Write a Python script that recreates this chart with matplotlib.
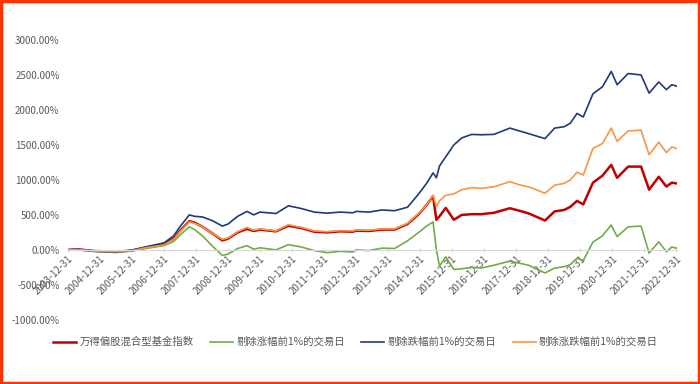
import numpy as np
import pandas as pd
import matplotlib.pyplot as plt
import matplotlib.dates as mdates
from matplotlib.patches import Rectangle
from matplotlib.ticker import FuncFormatter

plt.rcParams['font.family'] = ['Noto Sans CJK SC', 'DejaVu Sans']

# sample dates
dates = pd.to_datetime([
    "2003-12-31", "2004-04-20", "2004-10-20", "2005-06-30", "2005-12-31",
    "2006-07-01", "2006-12-31", "2007-04-20", "2007-07-01", "2007-10-16",
    "2007-12-15", "2008-03-15", "2008-07-01", "2008-10-28", "2008-12-31",
    "2009-04-20", "2009-08-04", "2009-10-20", "2009-12-31", "2010-07-01",
    "2010-11-20", "2011-04-20", "2011-09-10", "2012-02-05", "2012-07-01",
    "2012-11-25", "2012-12-31", "2013-05-25", "2013-10-20", "2014-03-15",
    "2014-08-10", "2014-12-15", "2015-03-15", "2015-05-28", "2015-07-05",
    "2015-08-10", "2015-10-20", "2016-01-20", "2016-04-20", "2016-08-10",
    "2016-11-25", "2017-04-20", "2017-10-20", "2018-02-05", "2018-05-25",
    "2018-11-25", "2019-03-15", "2019-07-01", "2019-09-10", "2019-11-25",
    "2020-02-05", "2020-05-25", "2020-09-10", "2020-12-20", "2021-02-25",
    "2021-07-01", "2021-11-25", "2022-02-25", "2022-06-15", "2022-09-10",
    "2022-11-10", "2023-01-05",
])

wind_index = [
    0, 8, -15, -30, -8, 40, 80, 160, 270, 410,
    390, 330, 240, 135, 160, 250, 300, 270, 290, 265,
    345, 310, 260, 250, 265, 260, 275, 270, 290, 290,
    370, 510, 640, 770, 430, 480, 600, 430, 500, 510,
    510, 530, 595, 560, 520, 420, 550, 570, 615, 700,
    650, 960, 1060, 1215, 1030, 1190, 1190, 860, 1045, 905,
    960, 950,
]
ex_top_up = [
    0, 0, -20, -35, -15, 25, 60, 120, 210, 330,
    290, 200, 60, -80, -60, 20, 60, 10, 30, 0,
    75, 40, -10, -40, -20, -30, 0, -10, 25, 20,
    130, 250, 340, 400, 0, -230, -100, -280, -270, -250,
    -260, -220, -160, -190, -220, -330, -260, -240, -210, -120,
    -150, 110, 200, 355, 190, 330, 340, -45, 115, -25,
    40, 25,
]
ex_top_down = [
    0, 10, -15, -30, -5, 50, 100, 200, 330, 500,
    480, 470, 420, 340, 370, 480, 550, 500, 540, 520,
    630, 590, 540, 525, 540, 530, 550, 540, 570, 560,
    610, 800, 950, 1100, 1030, 1200, 1330, 1500, 1600, 1650,
    1645, 1650, 1740, 1700, 1660, 1590, 1740, 1760, 1810, 1950,
    1900, 2230, 2330, 2550, 2360, 2520, 2500, 2240, 2400, 2290,
    2360, 2340,
]
ex_both = [
    0, 5, -15, -25, -10, 35, 70, 150, 260, 400,
    380, 330, 240, 150, 170, 260, 320, 280, 300, 270,
    360, 320, 270, 260, 275, 270, 285, 280, 300, 300,
    380, 520, 640, 780, 620, 700, 780, 800, 860, 890,
    880, 900, 975, 930, 900, 810, 925, 950, 1000, 1110,
    1070, 1450, 1520, 1740, 1550, 1700, 1710, 1360, 1540, 1390,
    1470, 1450,
]

series_names = ["万得偏股混合型基金指数", "剔除涨幅前1%的交易日",
                "剔除跌幅前1%的交易日", "剔除涨跌幅前1%的交易日"]
series_vals = [wind_index, ex_top_up, ex_top_down, ex_both]
colors = ["#C00000", "#70AD47", "#203A78", "#F79646"]
widths = [1.8, 1.2, 1.2, 1.2]

tick_dates = pd.to_datetime([f"{y}-12-31" for y in range(2003, 2023)])

fig = plt.figure(figsize=(7, 3.84), dpi=100)
ax = fig.add_axes([0.097, 0.167, 0.870, 0.729])

for name, vals, c, lw in zip(series_names, series_vals, colors, widths):
    ax.plot(dates, vals, color=c, lw=lw, label=name)

ax.set_ylim(-1000, 3000)
ax.set_yticks(np.arange(-1000, 3001, 500))
ax.yaxis.set_major_formatter(FuncFormatter(lambda v, p: f"{v:.2f}%"))
ax.set_xlim(pd.Timestamp("2003-12-31"), pd.Timestamp("2023-01-08"))
ax.set_xticks(tick_dates)
ax.xaxis.set_major_formatter(mdates.DateFormatter("%Y-%m-%d"))

for s in ["top", "right", "left"]:
    ax.spines[s].set_visible(False)
ax.spines["bottom"].set_position(("data", 0))
ax.spines["bottom"].set_color("#D9D9D9")
ax.tick_params(axis="y", length=0, labelsize=7, labelcolor="#595959", pad=6)
ax.tick_params(axis="x", length=3, color="#D9D9D9", direction="inout",
               labelsize=7, labelcolor="#595959", pad=1)
for lbl in ax.get_xticklabels():
    lbl.set_rotation(45)
    lbl.set_ha("right")
    lbl.set_rotation_mode("anchor")

fig.legend(loc="center", bbox_to_anchor=(0.508, 0.109), ncol=4, frameon=False,
           fontsize=7.5, handlelength=2.2, columnspacing=1.6, handletextpad=0.3,
           labelcolor="#595959")

fig.patches.append(Rectangle((0.002, 0.003), 0.996, 0.994, transform=fig.transFigure,
                             fill=False, edgecolor="#FF3300", lw=2.5))

plt.savefig("out.png", dpi=100)
